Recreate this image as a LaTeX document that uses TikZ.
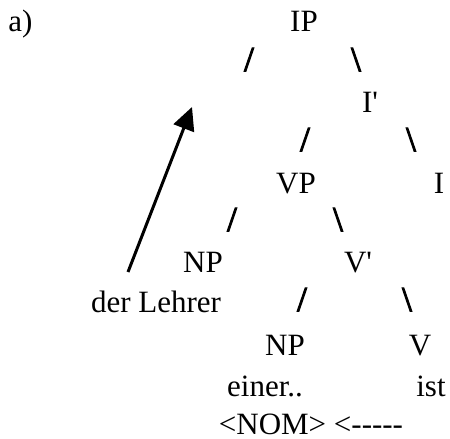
\documentclass[tikz,border=0pt]{standalone}
\usepackage{fontspec}
\setmainfont{Liberation Serif}[Ligatures=TeXOff]
\newfontfamily\branchfont{Liberation Serif}[FakeBold=3]
\usetikzlibrary{arrows.meta}
\tikzset{
	cat/.style={inner sep=0pt, anchor=base, font=\fontsize{15.5}{18}\selectfont},
	word/.style={inner sep=0pt, anchor=base, font=\fontsize{15.5}{18}\selectfont},
	branch/.style={inner sep=0pt, anchor=base, font=\fontsize{17.5}{20}\selectfont\branchfont},
	arrow/.style={-{Triangle[length=11.4pt, width=10.8pt]}, line width=1.5pt},
}

\begin{document}
\begin{tikzpicture}[x=0.5pt, y=-0.5pt]
		\useasboundingbox (0,0) rectangle (450,439);
		\node[word, anchor=base west] (part) at (8,32) {a)};
		\node[cat] (ip) at (304,32) {IP};
		\node[branch] (ipl) at (249,71) {/};
		\node[branch] (ipr) at (356,71) {\textbackslash};
		\node[cat] (ibar) at (370,112) {I'};
		\node[branch] (ibarl) at (305,151) {/};
		\node[branch] (ibarr) at (411,151) {\textbackslash};
		\node[cat] (vp) at (296,193) {VP};
		\node[cat] (infl) at (439,193) {I};
		\node[branch] (vpl) at (232,231) {/};
		\node[branch] (vpr) at (338,231) {\textbackslash};
		\node[cat] (subj) at (203,272) {NP};
		\node[cat] (vbar) at (358,272) {V'};
		\node[word] (lehrer) at (156,312) {der Lehrer};
		\node[branch] (vbarl) at (302,311) {/};
		\node[branch] (vbarr) at (407,311) {\textbackslash};
		\node[cat] (obj) at (285,355) {NP};
		\node[cat] (verb) at (420,355) {V};
		\node[word] (einer) at (265,396) {einer..};
		\node[word] (ist) at (431,396) {ist};
		\node[word] (case) at (311,434) {<NOM> <-----};
		% movement of the subject
		\coordinate (start) at (128,272);
		\coordinate (spec) at (192,107);
		\draw[arrow] (start) -- (spec);
	\end{tikzpicture}
\end{document}
